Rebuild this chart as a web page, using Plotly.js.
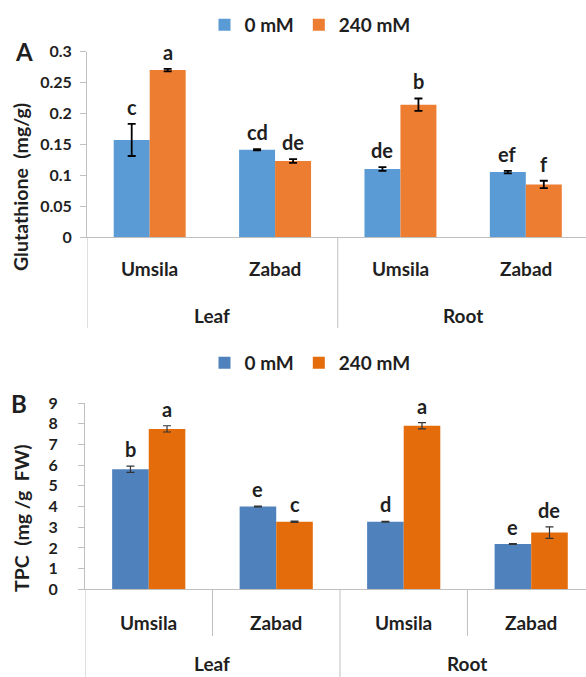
<!DOCTYPE html>
<html>
<head>
<meta charset="utf-8">
<script src="https://cdn.plot.ly/plotly-3.0.1.min.js"></script>
<style>html,body{margin:0;padding:0;background:#fff;}#chart{width:586px;height:677px;}</style>
</head>
<body>
<div id="chart"></div>
<script>
// ---- data ----
const cultivars = ["Umsila", "Zabad", "Umsila", "Zabad"];
const organs = ["Leaf", "Root"];
const seriesNames = ["0 mM", "240 mM"];

// Panel A: Glutathione (mg/g)
const gsh0 = [0.157, 0.141, 0.110, 0.105];
const gsh0Err = [0.026, 0.001, 0.003, 0.002];
const gsh240 = [0.270, 0.123, 0.214, 0.085];
const gsh240Err = [0.002, 0.003, 0.010, 0.006];
const gshLetters0 = ["c", "cd", "de", "ef"];
const gshLetters240 = ["a", "de", "b", "f"];

// Panel B: TPC (mg/g FW)
const tpc0 = [5.80, 4.00, 3.26, 2.19];
const tpc0Err = [0.15, 0.02, 0.02, 0.02];
const tpc240 = [7.75, 3.26, 7.90, 2.74];
const tpc240Err = [0.15, 0.03, 0.15, 0.28];
const tpcLetters0 = ["b", "e", "d", "e"];
const tpcLetters240 = ["a", "c", "a", "de"];

// ---- styling ----
const FONT = "Lato, 'Open Sans', sans-serif";
const TXT = "#1f1f1f";
const GRID = "#BFBFBF";
const W = 586, H = 677;
const py = v => (H - v) / H; // pixel row -> paper
const idx = cultivars.map((_, i) => i);
const BARGAP = 0.426;
const half = (1 - BARGAP) / 4;

function bar(name, vals, errs, color, xa, ya, lg, errColor, errThick) {
  return {
    type: "bar", name: name, x: idx, y: vals, xaxis: xa, yaxis: ya, legend: lg,
    marker: {color: color},
    error_y: {type: "data", array: errs, visible: true, color: errColor, thickness: errThick, width: 4},
    hoverinfo: "skip"
  };
}

const data = [
  bar(seriesNames[0], gsh0, gsh0Err, "#5B9BD5", "x", "y", "legend", "#000", 1.8),
  bar(seriesNames[1], gsh240, gsh240Err, "#ED7D31", "x", "y", "legend", "#000", 1.8),
  bar(seriesNames[0], tpc0, tpc0Err, "#4F81BD", "x2", "y2", "legend2", "#333", 1.2),
  bar(seriesNames[1], tpc240, tpc240Err, "#E46C0A", "x2", "y2", "legend2", "#333", 1.2)
];

const annotations = [];
function letters(arr, vals, errs, side, xref, yref) {
  arr.forEach((t, i) => annotations.push({
    text: t, x: i + side * half, y: vals[i] + errs[i], xref: xref, yref: yref,
    xanchor: "center", yanchor: "bottom", yshift: 3, showarrow: false,
    font: {family: FONT, size: 20, color: TXT, weight: "bold"}
  }));
}
letters(gshLetters0, gsh0, gsh0Err, -1, "x", "y");
letters(gshLetters240, gsh240, gsh240Err, 1, "x", "y");
letters(tpcLetters0, tpc0, tpc0Err, -1, "x2", "y2");
letters(tpcLetters240, tpc240, tpc240Err, 1, "x2", "y2");

// category + group labels
function catLabels(xref, yInner, yOuter) {
  cultivars.forEach((c, i) => annotations.push({
    text: c, x: i, xref: xref, y: py(yInner), yref: "paper", showarrow: false,
    xanchor: "center", yanchor: "middle", font: {family: FONT, size: 19, color: TXT, weight: "bold"}
  }));
  organs.forEach((o, j) => annotations.push({
    text: o, x: 2 * j + 0.5, xref: xref, y: py(yOuter), yref: "paper", showarrow: false,
    xanchor: "center", yanchor: "middle", font: {family: FONT, size: 19, color: TXT, weight: "bold"}
  }));
}
catLabels("x", 268, 315);
catLabels("x2", 622, 663);

// axis titles and panel letters
annotations.push({text: "Glutathione  (mg/g)", textangle: -90, x: 20 / W, y: py(187), xref: "paper", yref: "paper",
  showarrow: false, xanchor: "center", yanchor: "middle", font: {family: FONT, size: 19.5, color: TXT, weight: "bold"}});
annotations.push({text: "TPC  (mg /g  FW)", textangle: -90, x: 21 / W, y: py(518), xref: "paper", yref: "paper",
  showarrow: false, xanchor: "center", yanchor: "middle", font: {family: FONT, size: 19.5, color: TXT, weight: "bold"}});
annotations.push({text: "A", x: 24 / W, y: py(51), xref: "paper", yref: "paper", showarrow: false,
  xanchor: "center", yanchor: "middle", font: {family: FONT, size: 24, color: TXT, weight: "bold"}});
annotations.push({text: "B", x: 19 / W, y: py(403), xref: "paper", yref: "paper", showarrow: false,
  xanchor: "center", yanchor: "middle", font: {family: FONT, size: 24, color: TXT, weight: "bold"}});

// dividers
const shapes = [];
function divider(xref, xv, y0, y1) {
  shapes.push({type: "line", xref: xref, yref: "paper", x0: xv, x1: xv, y0: py(y0), y1: py(y1),
    line: {color: GRID, width: 1}});
}
divider("x", -0.5, 237, 328);
divider("x", 1.5, 237, 328);
divider("x2", -0.5, 589.3, 677);
divider("x2", 0.5, 589.3, 636);
divider("x2", 1.5, 589.3, 677);
divider("x2", 2.5, 589.3, 636);

const tickFont = {family: FONT, size: 16, color: TXT, weight: "bold"};
const layout = {
  width: W, height: H,
  margin: {l: 0, r: 0, t: 0, b: 0},
  paper_bgcolor: "#fff", plot_bgcolor: "#fff",
  barmode: "group", bargap: BARGAP, bargroupgap: 0,
  showlegend: true,
  font: {family: FONT, color: TXT},
  xaxis: {domain: [87 / W, 1], range: [-0.5, 3.48], anchor: "y", showgrid: false, zeroline: false,
    showline: true, linecolor: GRID, linewidth: 1, showticklabels: false, ticks: "", fixedrange: true},
  yaxis: {domain: [py(237), py(51.5)], range: [0, 0.3], dtick: 0.05, anchor: "x", showgrid: false, zeroline: false,
    showline: true, linecolor: GRID, linewidth: 1, ticks: "outside", ticklen: 6, tickcolor: GRID,
    tickfont: tickFont, ticklabelstandoff: 5},
  xaxis2: {domain: [85 / W, 1], range: [-0.5, 3.43], anchor: "y2", showgrid: false, zeroline: false,
    showline: true, linecolor: GRID, linewidth: 1, showticklabels: false, ticks: "", fixedrange: true},
  yaxis2: {domain: [py(589.3), py(403)], range: [0, 9], dtick: 1, anchor: "x2", showgrid: false, zeroline: false,
    showline: true, linecolor: GRID, linewidth: 1, ticks: "outside", ticklen: 6, tickcolor: GRID,
    tickfont: tickFont, ticklabelstandoff: 17},
  legend: {orientation: "h", x: 310 / W, xanchor: "center", y: py(25), yanchor: "middle",
    font: {family: FONT, size: 19, color: TXT, weight: "bold"}, itemwidth: 30, bgcolor: "rgba(0,0,0,0)"},
  legend2: {orientation: "h", x: 310 / W, xanchor: "center", y: py(363), yanchor: "middle",
    font: {family: FONT, size: 19, color: TXT, weight: "bold"}, itemwidth: 30, bgcolor: "rgba(0,0,0,0)"},
  annotations: annotations,
  shapes: shapes
};

Plotly.newPlot("chart", data, layout, {staticPlot: true, displayModeBar: false});
</script>
</body>
</html>
